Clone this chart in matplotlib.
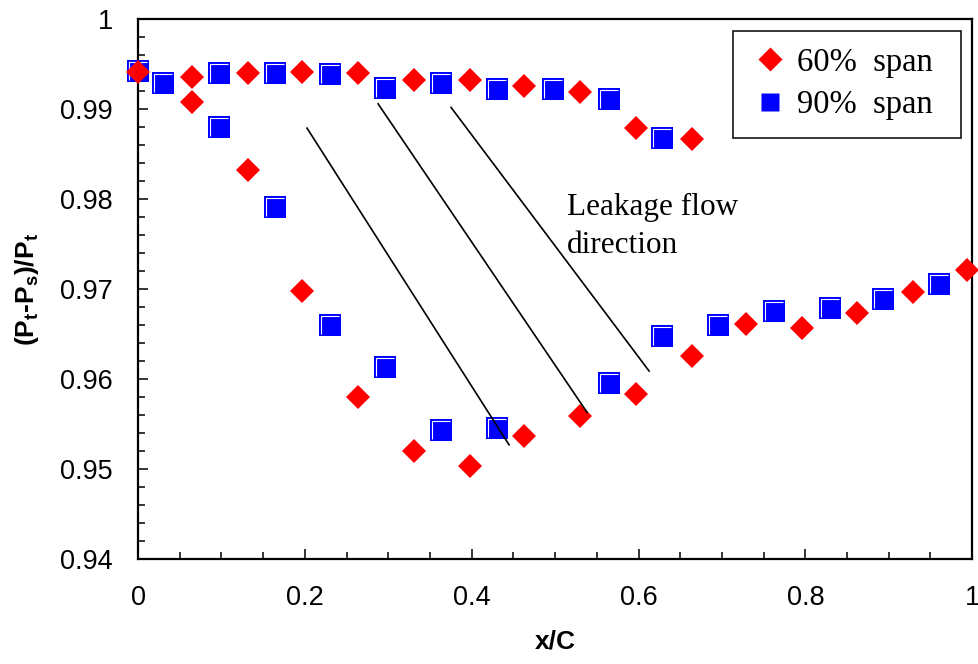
import matplotlib
matplotlib.use('Agg')
import matplotlib.pyplot as plt
from matplotlib.lines import Line2D
from matplotlib.patches import Rectangle
from matplotlib.path import Path
from matplotlib.ticker import MultipleLocator, FuncFormatter

plt.rcParams['font.family'] = ['Liberation Sans', 'DejaVu Sans']
plt.rcParams['mathtext.fontset'] = 'custom'
plt.rcParams['mathtext.rm'] = 'Liberation Sans'
plt.rcParams['mathtext.bf'] = 'Liberation Sans:bold'

# 60% span: upper (pressure side) and lower (suction side) branches
span60_x_upper = [0, 0.065, 0.132, 0.197, 0.264, 0.331, 0.398, 0.463, 0.530, 0.597, 0.664]
span60_y_upper = [0.9941, 0.9936, 0.9940, 0.9941, 0.9940, 0.9933, 0.9933, 0.9926, 0.9919, 0.9879, 0.9867]
span60_x_lower = [0.065, 0.132, 0.197, 0.264, 0.331, 0.398, 0.463, 0.530, 0.597, 0.664,
                  0.729, 0.796, 0.862, 0.929, 0.994]
span60_y_lower = [0.9908, 0.9833, 0.9698, 0.9580, 0.9520, 0.9503, 0.9537, 0.9559, 0.9584, 0.9626,
                  0.9661, 0.9657, 0.9674, 0.9697, 0.9721]

# 90% span
span90_x_upper = [0, 0.030, 0.097, 0.164, 0.230, 0.296, 0.363, 0.430, 0.498, 0.565, 0.628]
span90_y_upper = [0.9942, 0.9929, 0.9940, 0.9940, 0.9939, 0.9924, 0.9929, 0.9922, 0.9922, 0.9911, 0.9868]
span90_x_lower = [0.097, 0.164, 0.230, 0.296, 0.363, 0.430, 0.565, 0.628, 0.695, 0.763, 0.830, 0.893, 0.960]
span90_y_lower = [0.9880, 0.9791, 0.9660, 0.9614, 0.9544, 0.9546, 0.9596, 0.9648, 0.9660, 0.9676,
                  0.9679, 0.9689, 0.9706]

# leakage flow direction lines, (x0, y0, x1, y1)
leak_lines = [(0.2026, 0.9879, 0.4448, 0.9527),
              (0.2878, 0.9906, 0.5384, 0.9563),
              (0.3753, 0.9902, 0.6127, 0.9609)]

labels = ['60%  span', '90%  span']

fig = plt.figure(figsize=(9.79, 6.64), dpi=100)
ax = fig.add_axes([0.141, 0.158, 0.852, 0.813])

# white highlight drawn in the top-left corner of each square
corner = Path([(-1, -1), (-1, 1), (1, 1)], [Path.MOVETO, Path.LINETO, Path.LINETO])


def squares(x, y):
    ax.plot(x, y, ls='none', marker='s', ms=15.8, mfc='#0000ff', mec='none', mew=0,
            zorder=4, clip_on=False)
    ax.plot(x, y, ls='none', marker=corner, ms=12.4, mfc='none', mec='white', mew=0.8,
            zorder=4.1, clip_on=False)


def diamonds(x, y):
    ax.plot(x, y, ls='none', marker='D', ms=12.2, mfc='#ff0000', mec='none', mew=0,
            zorder=5, clip_on=False)


squares(span90_x_upper, span90_y_upper)
squares(span90_x_lower, span90_y_lower)
diamonds(span60_x_upper, span60_y_upper)
diamonds(span60_x_lower, span60_y_lower)

for x0, y0, x1, y1 in leak_lines:
    ax.plot([x0, x1], [y0, y1], color='black', lw=1.2, zorder=6)

ax.text(0.5144, 0.9740, 'Leakage flow\ndirection', family='Liberation Serif',
        fontsize=22.5, va='baseline', linespacing=1.44)

ax.set_xlim(0, 1)
ax.set_ylim(0.94, 1.0)
ax.xaxis.set_major_locator(MultipleLocator(0.2))
ax.xaxis.set_minor_locator(MultipleLocator(0.05))
ax.yaxis.set_major_locator(MultipleLocator(0.01))
ax.yaxis.set_minor_locator(MultipleLocator(0.002))
fmt = FuncFormatter(lambda v, p: f'{v:g}')
ax.xaxis.set_major_formatter(fmt)
ax.yaxis.set_major_formatter(fmt)

ax.tick_params(which='both', direction='in', width=1.1, labelsize=19.5,
               top=False, right=False)
ax.tick_params(which='major', length=7)
ax.tick_params(which='minor', length=5)
ax.tick_params(axis='x', pad=19)
ax.tick_params(axis='y', pad=18)
for s in ax.spines.values():
    s.set_linewidth(1.6)

ax.set_xlabel('x/C', fontweight='bold', fontsize=19, labelpad=13)
ax.set_ylabel(r'$\mathbf{(P_t}$-$\mathbf{P_s)/P_t}$', fontweight='bold', fontsize=19, labelpad=14)

handles = [Line2D([], [], ls='none', marker='D', ms=12, mfc='#ff0000', mec='none'),
           Line2D([], [], ls='none', marker='s', ms=13, mfc='#0000ff', mec='none')]
ax.legend(handles, labels, loc='upper left', bbox_to_anchor=(0.7434, 0.9481),
          frameon=False, borderpad=0, borderaxespad=0, handlelength=0.75,
          handletextpad=0.44, labelspacing=0.37,
          prop={'family': 'Liberation Serif', 'size': 23.5})
ax.add_patch(Rectangle((0.7134, 0.7796), 0.2734, 0.1982, transform=ax.transAxes,
                       fill=False, lw=1.1, ec='black', zorder=7, clip_on=False))

fig.savefig('out.png', dpi=100)
